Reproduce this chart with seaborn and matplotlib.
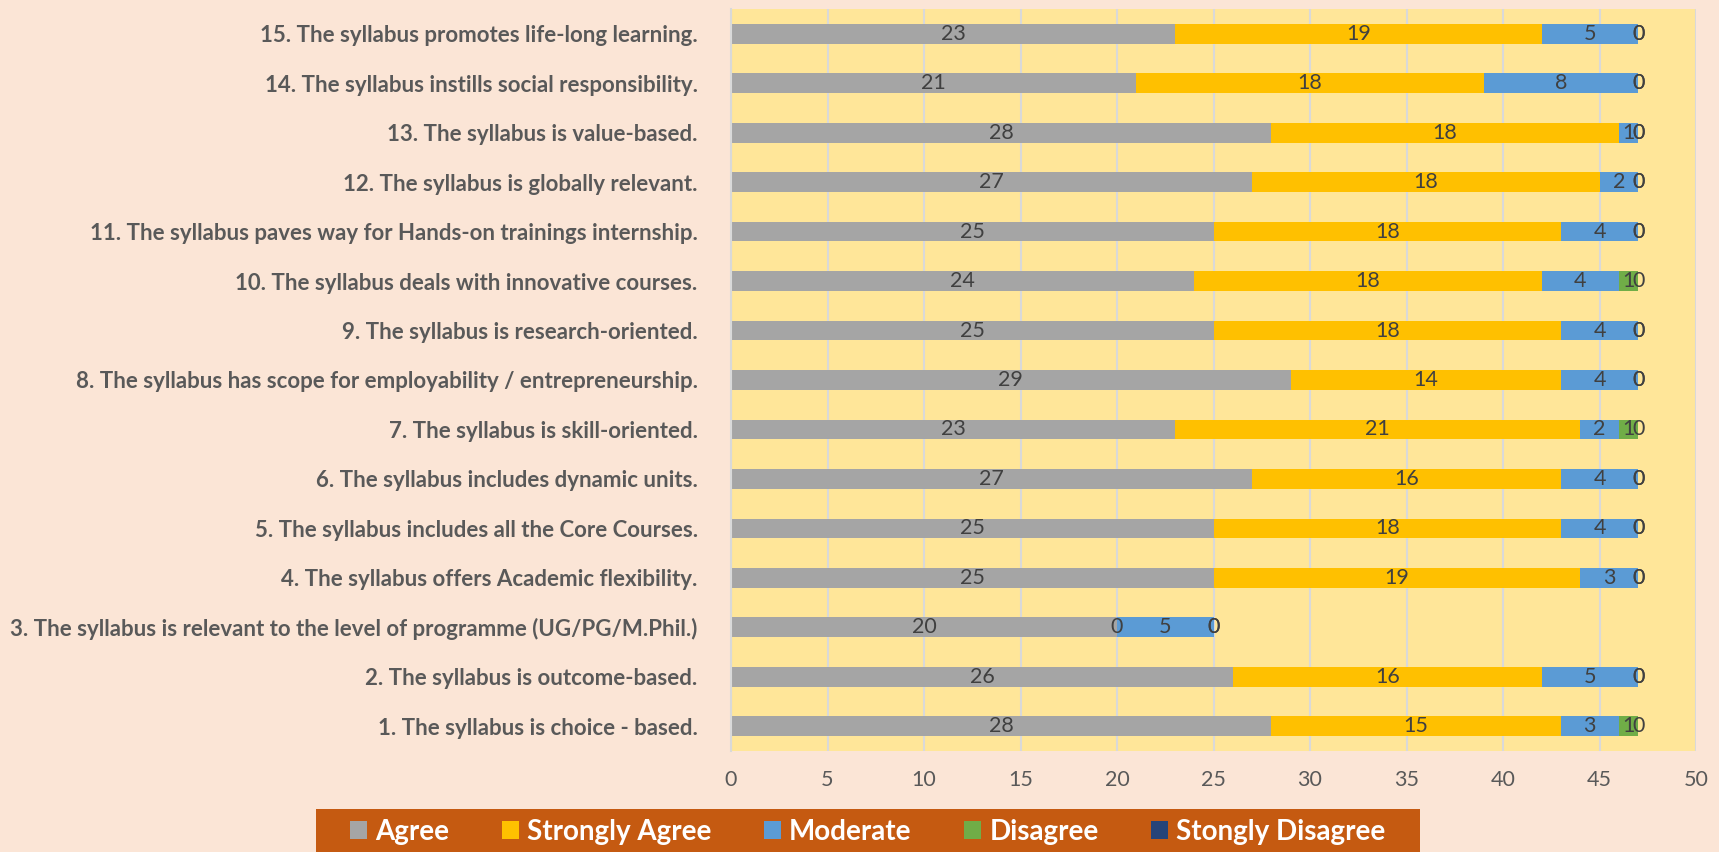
import pandas as pd
import numpy as np
import matplotlib.pyplot as plt
from matplotlib.patches import Rectangle
import seaborn as sns

statements = [
    "1. The syllabus is choice - based.",
    "2. The syllabus is outcome-based.",
    "3. The syllabus is relevant to the level of programme (UG/PG/M.Phil.)",
    "4. The syllabus offers Academic flexibility.",
    "5. The syllabus includes all the Core Courses.",
    "6. The syllabus includes dynamic units.",
    "7. The syllabus is skill-oriented.",
    "8. The syllabus has scope for employability / entrepreneurship.",
    "9. The syllabus is research-oriented.",
    "10. The syllabus deals with innovative courses.",
    "11. The syllabus paves way for Hands-on trainings internship.",
    "12. The syllabus is globally relevant.",
    "13. The syllabus is value-based.",
    "14. The syllabus instills social responsibility.",
    "15. The syllabus promotes life-long learning.",
]
agree = [28, 26, 20, 25, 25, 27, 23, 29, 25, 24, 25, 27, 28, 21, 23]
strongly_agree = [15, 16, 0, 19, 18, 16, 21, 14, 18, 18, 18, 18, 18, 18, 19]
moderate = [3, 5, 5, 3, 4, 4, 2, 4, 4, 4, 4, 2, 1, 8, 5]
disagree = [1, 0, 0, 0, 0, 0, 1, 0, 0, 1, 0, 0, 0, 0, 0]
strongly_disagree = [0, 0, 0, 0, 0, 0, 0, 0, 0, 0, 0, 0, 0, 0, 0]

series = ["Agree", "Strongly Agree", "Moderate", "Disagree", "Stongly Disagree"]
colors = ["#A5A5A5", "#FFC000", "#5B9BD5", "#70AD47", "#264478"]

df = pd.DataFrame({
    "statement": statements,
    "Agree": agree,
    "Strongly Agree": strongly_agree,
    "Moderate": moderate,
    "Disagree": disagree,
    "Stongly Disagree": strongly_disagree,
})
cum = df[series].cumsum(axis=1)
order = statements[::-1]

sns.set_theme(style="white")
plt.rcParams['font.family'] = ['Lato', 'DejaVu Sans']

fig = plt.figure(figsize=(17.19, 8.52), dpi=100)
fig.patch.set_facecolor("#FBE5D6")
ax = fig.add_axes([731 / 1719, 101 / 852, 965 / 1719, 742 / 852])
ax.set_facecolor("#FFE699")

# stacked bars: draw cumulative totals from the last series to the first
for name, color in reversed(list(zip(series, colors))):
    sns.barplot(x=cum[name], y=df["statement"], order=order, orient="h",
                color=color, width=0.4, saturation=1, linewidth=0, ax=ax, zorder=2)

# value labels in the middle of each segment
for i, stmt in enumerate(order):
    row = df.index[df["statement"] == stmt][0]
    for name in series:
        val = df.loc[row, name]
        center = cum.loc[row, name] - val / 2
        ax.text(center, i, f"{val}", ha="center", va="center",
                fontsize=15.5, color="#404040", zorder=3)

ax.set_xlim(0, 50)
ax.set_ylim(14.5, -0.5)
ax.set_xticks(np.arange(0, 51, 5))
ax.xaxis.grid(True, color="#D9D9D9", linewidth=1.5, zorder=0)
ax.set_axisbelow(True)
ax.set_xlabel("")
ax.set_ylabel("")
for s in ["top", "right", "bottom"]:
    ax.spines[s].set_visible(False)
ax.spines["left"].set_color("#D9D9D9")
ax.spines["left"].set_linewidth(1.5)
ax.tick_params(axis="x", length=0, pad=14, labelsize=15.5, labelcolor="#595959")
ax.tick_params(axis="y", length=0, pad=24, labelsize=16, labelcolor="#595959")
for lbl in ax.get_yticklabels():
    lbl.set_fontweight("bold")

# legend box
fig.patches.append(Rectangle((316 / 1719, 0), (1420 - 316) / 1719, 43 / 852,
                             transform=fig.transFigure, facecolor="#C55A11",
                             edgecolor="none", zorder=0))
handles = [Rectangle((0, 0), 1, 1, facecolor=c, edgecolor="none") for c in colors]
leg = fig.legend(handles, series, loc="center", bbox_to_anchor=(868 / 1719, 20 / 852),
                 ncol=5, frameon=False, handlelength=0.6, handleheight=0.6,
                 handletextpad=0.3, columnspacing=1.9, prop={"size": 20, "weight": "bold"})
for t in leg.get_texts():
    t.set_color("white")

fig.savefig("out.png", dpi=100, facecolor=fig.get_facecolor())
